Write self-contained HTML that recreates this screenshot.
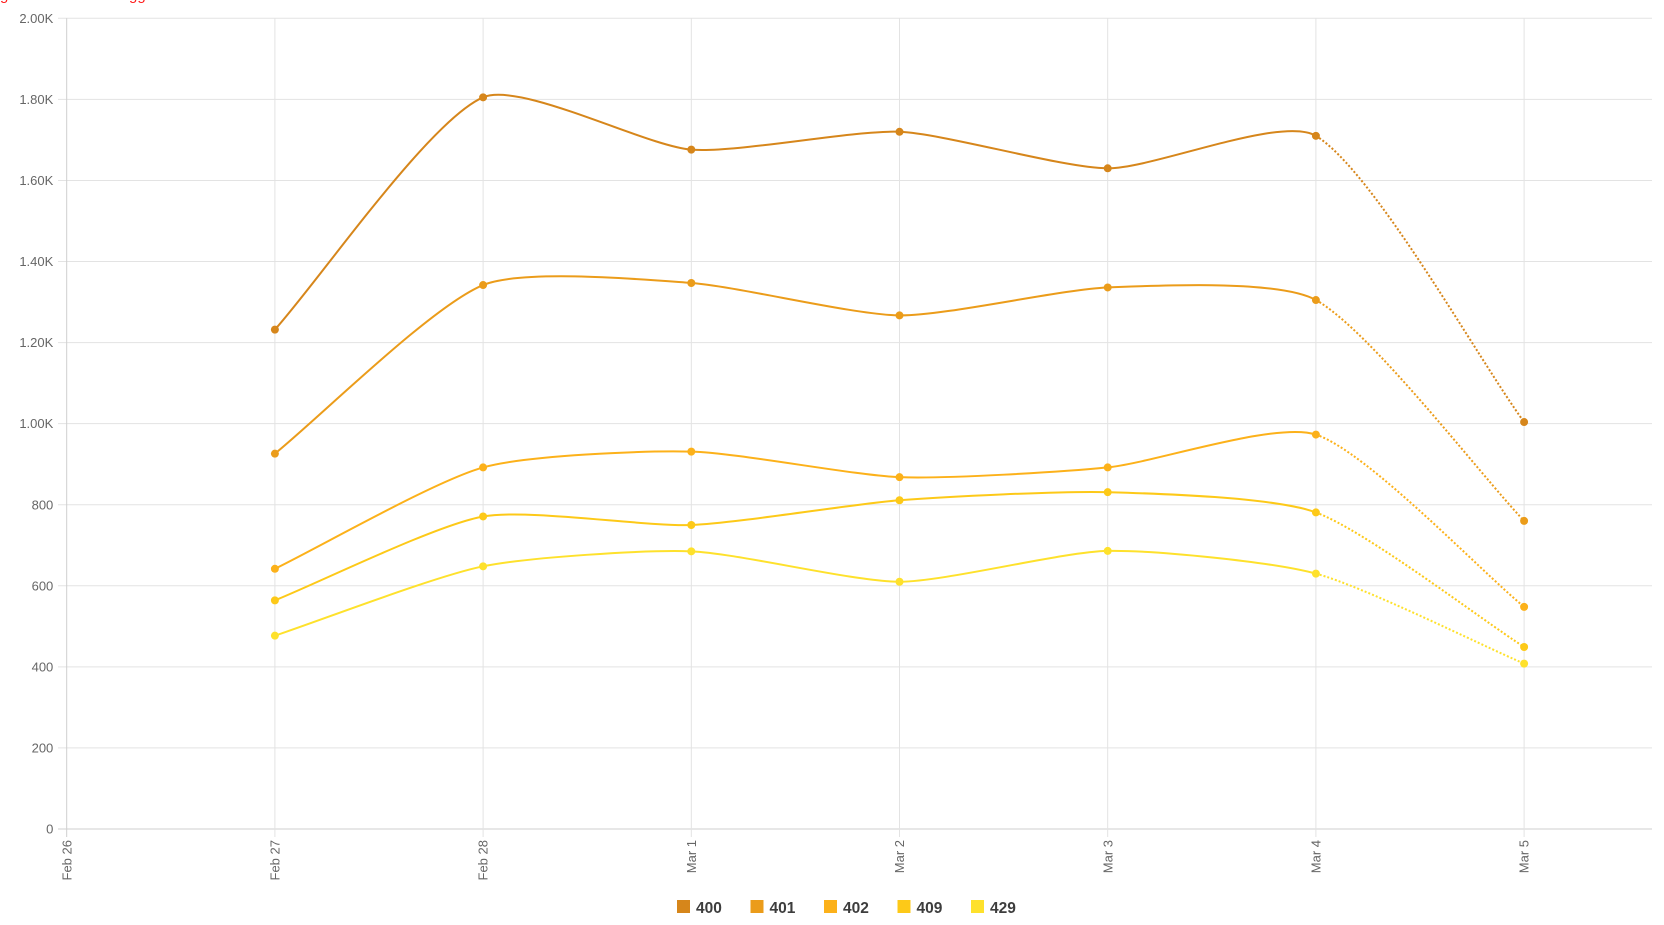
<!DOCTYPE html>
<html>
<head>
<meta charset="utf-8">
<style>
  html, body { margin: 0; padding: 0; background: #ffffff; }
  body { width: 1664px; height: 925px; overflow: hidden; position: relative; font-family: "Liberation Sans", Arial, sans-serif; }
  .red { position: absolute; top: -12.2px; font-size: 15px; line-height: 15px; color: #ff1a1a; white-space: nowrap; }
  svg { position: absolute; left: 0; top: 0; }
</style>
</head>
<body>
<span class="red" style="left:0px;">g</span>
<span class="red" style="left:129px;">gg</span>
<svg id="chart" width="1664" height="925" viewBox="0 0 1664 925" xmlns="http://www.w3.org/2000/svg">
  <g id="grid"></g>
  <g id="axes"></g>
  <g id="series"></g>
  <g id="legend" font-family="Liberation Sans, Arial, sans-serif" font-weight="bold" font-size="15.5" fill="#3d3d3d">
    <rect x="677" y="900" width="13" height="13" fill="#d6861b"/>
    <text x="696" y="913">400</text>
    <rect x="750.5" y="900" width="13" height="13" fill="#eb9c1a"/>
    <text x="769.5" y="913">401</text>
    <rect x="824" y="900" width="13" height="13" fill="#fcb11a"/>
    <text x="843" y="913">402</text>
    <rect x="897.5" y="900" width="13" height="13" fill="#fdc918"/>
    <text x="916.5" y="913">409</text>
    <rect x="971" y="900" width="13" height="13" fill="#fee12c"/>
    <text x="990" y="913">429</text>
  </g>
</svg>
<script>
(function(){
  var NS = "http://www.w3.org/2000/svg";
  var X0 = 66.7, DX = 208.2, YB = 829, K = (829 - 18.3) / 2000;
  var RIGHT = 1652;
  function X(i){ return X0 + i * DX; }
  function Y(v){ return YB - v * K; }
  function el(tag, attrs, parent, text){
    var e = document.createElementNS(NS, tag);
    for (var k in attrs) e.setAttribute(k, attrs[k]);
    if (text !== undefined) e.textContent = text;
    parent.appendChild(e);
    return e;
  }
  var grid = document.getElementById("grid");
  var axes = document.getElementById("axes");
  var series = document.getElementById("series");

  var ylabels = ["0","200","400","600","800","1.00K","1.20K","1.40K","1.60K","1.80K","2.00K"];
  for (var j = 0; j <= 10; j++) {
    var v = j * 200, y = Y(v);
    el("line", {x1: 58, y1: y, x2: RIGHT, y2: y, stroke: j === 0 ? "#cfcfcf" : "#e3e3e3", "stroke-width": 1}, grid);
    el("text", {x: 53.3, y: y, dy: "0.35em", "text-anchor": "end", "font-size": "13", fill: "#666666", "font-family": "Liberation Sans, Arial, sans-serif"}, axes, ylabels[j]);
  }
  var xlabels = ["Feb 26","Feb 27","Feb 28","Mar 1","Mar 2","Mar 3","Mar 4","Mar 5"];
  for (var i = 0; i < 8; i++) {
    var x = X(i);
    el("line", {x1: x, y1: 18.3, x2: x, y2: 837, stroke: i === 0 ? "#cfcfcf" : "#e3e3e3", "stroke-width": 1}, grid);
    el("text", {transform: "translate(" + x + ",840) rotate(-90)", x: 0, y: 0, dy: "0.35em", "text-anchor": "end", "font-size": "13", fill: "#666666", "font-family": "Liberation Sans, Arial, sans-serif"}, axes, xlabels[i]);
  }

  var data = [
    {c: "#d6861b", v: [1232,1805,1676,1720,1630,1710,1004]},
    {c: "#eb9c1a", v: [926,1342,1347,1267,1336,1305,760]},
    {c: "#fcb11a", v: [642,892,931,868,892,973,548]},
    {c: "#fdc918", v: [564,771,750,811,831,781,449]},
    {c: "#fee12c", v: [477,648,685,610,686,630,408]}
  ];
  var T = 0.22;
  function f(n){ return n.toFixed(2); }
  data.forEach(function(s){
    var pts = s.v.map(function(v, k){ return {x: X(k + 1), y: Y(v)}; });
    var cps = pts.map(function(cur, k){
      var prev = pts[k-1] || cur, next = pts[k+1] || cur;
      var d01 = Math.hypot(cur.x - prev.x, cur.y - prev.y);
      var d12 = Math.hypot(next.x - cur.x, next.y - cur.y);
      var s01 = d01 / (d01 + d12), s12 = d12 / (d01 + d12);
      if (isNaN(s01)) s01 = 0; if (isNaN(s12)) s12 = 0;
      var fa = T * s01, fb = T * s12;
      return {
        p: {x: cur.x - fa * (next.x - prev.x), y: cur.y - fa * (next.y - prev.y)},
        n: {x: cur.x + fb * (next.x - prev.x), y: cur.y + fb * (next.y - prev.y)}
      };
    });
    var d = "M" + f(pts[0].x) + "," + f(pts[0].y);
    for (var k = 0; k < pts.length - 2; k++) {
      d += " C" + f(cps[k].n.x) + "," + f(cps[k].n.y) + " " + f(cps[k+1].p.x) + "," + f(cps[k+1].p.y) + " " + f(pts[k+1].x) + "," + f(pts[k+1].y);
    }
    el("path", {d: d, fill: "none", stroke: s.c, "stroke-width": 2, "stroke-linejoin": "round"}, series);
    var L = pts.length - 1;
    var dd = "M" + f(pts[L-1].x) + "," + f(pts[L-1].y) + " C" + f(cps[L-1].n.x) + "," + f(cps[L-1].n.y) + " " + f(cps[L].p.x) + "," + f(cps[L].p.y) + " " + f(pts[L].x) + "," + f(pts[L].y);
    el("path", {d: dd, fill: "none", stroke: s.c, "stroke-width": 2, "stroke-dasharray": "2 2"}, series);
    pts.forEach(function(p){
      el("circle", {cx: f(p.x), cy: f(p.y), r: 4, fill: s.c}, series);
    });
  });
})();
</script>
</body>
</html>
